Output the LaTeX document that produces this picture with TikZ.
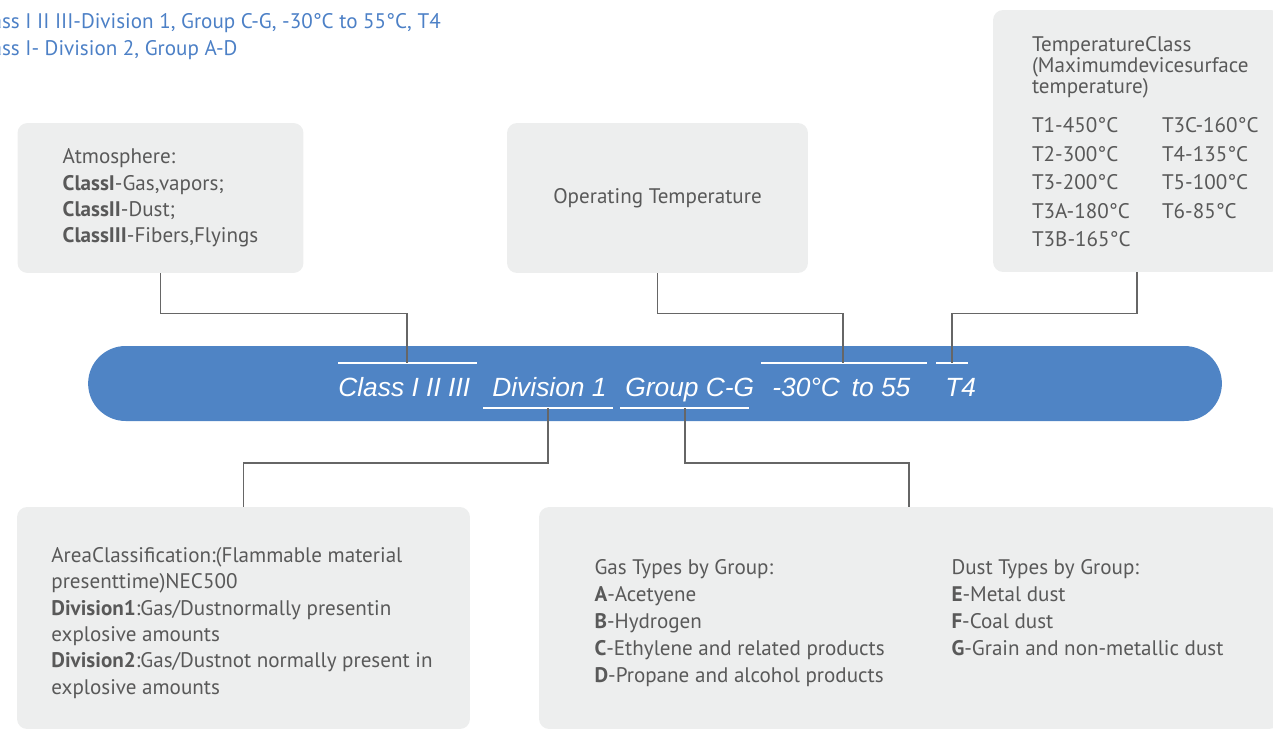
\documentclass[tikz,border=0pt]{standalone}
\usepackage{fontspec}
\setmainfont{PT Sans}
\newfontfamily\barfont{Liberation Sans}
\usetikzlibrary{calc, positioning}
\definecolor{barblue}{HTML}{4F84C5}
\definecolor{boxgray}{HTML}{EDEEEE}
\definecolor{textgray}{HTML}{595959}
\definecolor{linegray}{HTML}{666666}
\definecolor{headblue}{HTML}{4C80C6}
\tikzset{
    info-box/.style={
        fill=boxgray, rounded corners=0.2cm, inner sep=0pt, text=textgray,
        align=left, font=\fontsize{12}{15}\selectfont
    },
    leader/.style={
        draw=linegray, line width=0.7pt
    },
    mark-line/.style={
        draw=white, line width=1pt
    },
    bar-text/.style={
        text=white, anchor=base west, inner sep=0pt,
        font=\barfont\itshape\fontsize{15}{18}\selectfont
    },
    head-text/.style={
        text=headblue, inner sep=0pt, anchor=base west, font=\fontsize{12}{15}\selectfont
    },
}

\begin{document}
\begin{tikzpicture}[x=0.02cm, y=-0.02cm]

        \clip (0,0) rectangle (1273,730);

        % HEADLINE (CUT AT THE LEFT EDGE)
        \node[head-text] (HEAD1) at (-27,29) {Class I II III-Division 1, Group C-G, -30°C to 55°C, T4};
        \node[head-text] (HEAD2) at ($(HEAD1.base west) + (0,26)$) {Class I- Division 2, Group A-D};

        % MARKING BAR AND ITS TEXT
        \node[fill=barblue, rounded corners=0.75cm, minimum width=22.68cm, minimum height=1.5cm, inner sep=0pt] (BAR) at (655,383.5) {};
        \node[bar-text] (CLS) at (338,396) {Class I II III};
        \node[bar-text] (DIV) at (492,396) {Division 1};
        \node[bar-text] (GRP) at (625,396) {Group C-G};
        \node[bar-text] (TMP) at (772,396) {-30°C\, to 55};
        \node[bar-text] (TCL) at (945,396) {T4};

        % OVER AND UNDER LINES, CONNECTOR POINTS
        \draw[mark-line] (338,363) -- (477,363);
        \draw[mark-line] (483,408) -- (613,408);
        \draw[mark-line] (620,408) -- (749,408);
        \draw[mark-line] (761,363) -- (927,363);
        \draw[mark-line] (936,363) -- (968,363);
        \coordinate (CLSMARK) at (407,363);
        \coordinate (DIVMARK) at (548,408);
        \coordinate (GRPMARK) at (685,408);
        \coordinate (TMPMARK) at (843,363);
        \coordinate (TCLMARK) at (952,363);

        % UPPER BOXES
        \node[info-box, minimum width=5.72cm, minimum height=3cm] (ATMO) at (160.5,198)
            {Atmosphere:\\ \textbf{ClassI}-Gas,vapors;\\ \textbf{ClassII}-Dust;\\ \textbf{ClassIII}-Fibers,Flyings};
        \node[info-box, minimum width=6.02cm, minimum height=3cm] (OPT) at (657.5,198)
            {Operating Temperature};
        \node[info-box, minimum width=5.76cm, minimum height=5.24cm] (TCLS) at (1137,141) {};
        \node[info-box, fill=none, anchor=center] (TCLSTXT) at (1157,146)
            {\fontsize{12}{16.2}\selectfont
             \begin{tabular}{@{}p{2.6cm}@{}l@{}}
             \multicolumn{2}{@{}l@{}}{\parbox[b]{5cm}{\fontsize{12}{12}\selectfont TemperatureClass\\(Maximumdevicesurface\\temperature)}}\\[6pt]
             T1-450°C  & T3C-160°C \\
             T2-300°C  & T4-135°C \\
             T3-200°C  & T5-100°C \\
             T3A-180°C & T6-85°C \\
             T3B-165°C &
             \end{tabular}};

        % LOWER BOXES
        \node[info-box, minimum width=9.06cm, minimum height=4.44cm] (AREA) at (243.5,618) {};
        \node[info-box, fill=none, anchor=center] (AREATXT) at (242,623)
            {AreaClassification:(Flammable material\\ presenttime)NEC500\\
             \textbf{Division1}:Gas/Dustnormally presentin\\ explosive amounts\\
             \textbf{Division2}:Gas/Dustnot normally present in\\ explosive amounts};
        \node[info-box, minimum width=14.8cm, minimum height=4.44cm] (GAS) at (909,618) {};
        \node[info-box, fill=none, anchor=center] (GASTXT) at (909,623)
            {\fontsize{12}{15.3}\selectfont
             \begin{tabular}{@{}p{7.14cm}@{}l@{}}
             Gas Types by Group:                    & Dust Types by Group: \\
             \textbf{A}-Acetyene                    & \textbf{E}-Metal dust \\
             \textbf{B}-Hydrogen                    & \textbf{F}-Coal dust \\
             \textbf{C}-Ethylene and related products & \textbf{G}-Grain and non-metallic dust \\
             \textbf{D}-Propane and alcohol products &
             \end{tabular}};

        % CONNECTIONS
        \draw[leader] (ATMO.south) -- ++(0,40) -| (CLSMARK);
        \draw[leader] (OPT.south) -- ++(0,40) -| (TMPMARK);
        \draw[leader] (TCLS.south) -- ++(0,41) -| (TCLMARK);
        \draw[leader] (DIVMARK) -- ++(0,55) -| (AREA.north);
        \draw[leader] (GRPMARK) -- ++(0,55) -| (GAS.north);

    \end{tikzpicture}
\end{document}
